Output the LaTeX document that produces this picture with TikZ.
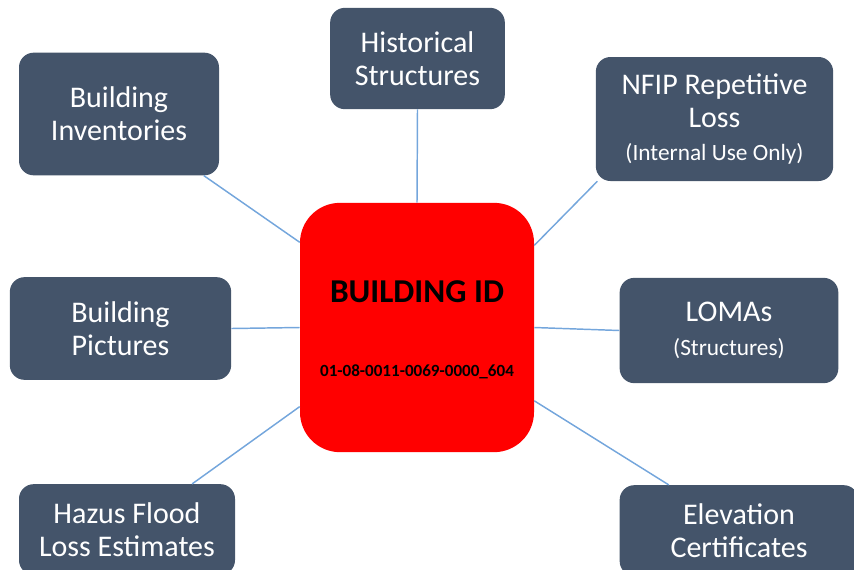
\documentclass[tikz,border=0pt]{standalone}
\usepackage{fontspec}
\setmainfont{Carlito}
\usepackage{tikz}
\usetikzlibrary{positioning}
\definecolor{boxgray}{HTML}{44546A}
\definecolor{linkblue}{RGB}{116,166,220}
\tikzstyle{topic} = [rectangle, rounded corners = 11pt, inner sep = 0pt,
  align = center, fill = boxgray, text = white,
  font = \fontsize{22.5}{25}\selectfont]
\tikzstyle{hub} = [rectangle, rounded corners = 30pt, inner sep = 0pt,
  fill = red, minimum width = 175.5pt, minimum height = 187pt]
\tikzstyle{link} = [linkblue, line width = 1.1pt]
\newcommand{\smalltxt}[1]{{\fontsize{17.5}{20}\selectfont #1}}

\begin{document}
\begin{tikzpicture}[x = 0.75pt, y = -0.75pt]
  \useasboundingbox (0,0) rectangle (854,569);

  \node (bid) [hub] at (417,327.5) {};
  \node (bid-title) at (417,292) {\fontsize{25}{28}\selectfont\bfseries BUILDING ID};
  \node (bid-num) at (417,372) {\fontsize{12.8}{14}\selectfont\bfseries 01-08-0011-0069-0000\_604};

  \node (hist) [topic, minimum width = 131pt, minimum height = 76pt] at (417.5,58.5)
    {Historical\\Structures};
  \node (inv) [topic, minimum width = 150pt, minimum height = 92pt] at (119,114)
    {Building\\Inventories};
  \node (nfip) [topic, minimum width = 178pt, minimum height = 93pt] at (714.5,119)
    {NFIP Repetitive\\Loss\\\smalltxt{(Internal Use Only)}};
  \node (pic) [topic, minimum width = 166pt, minimum height = 77pt] at (120.5,328.5)
    {Building\\Pictures};
  \node (lomas) [topic, minimum width = 164pt, minimum height = 79pt] at (729,330.5)
    {LOMAs\\\smalltxt{(Structures)}};
  \node (hazus) [topic, minimum width = 162pt, minimum height = 68pt] at (127,529.5)
    {Hazus Flood\\Loss Estimates};
  \node (elev) [topic, minimum width = 179pt, minimum height = 68pt] at (739,530.5)
    {Elevation\\Certificates};

  \draw [link] (hist.south) -- (bid.north);
  \draw [link] (inv.-36) -- (bid.144);
  \draw [link] (nfip.208) -- (bid.35.5);
  \draw [link] (pic.east) -- (bid.west);
  \draw [link] (bid.east) -- (lomas.west);
  \draw [link] (hazus.35.6) -- (bid.214.7);
  \draw [link] (elev.147.5) -- (bid.-32.5);
\end{tikzpicture}
\end{document}
